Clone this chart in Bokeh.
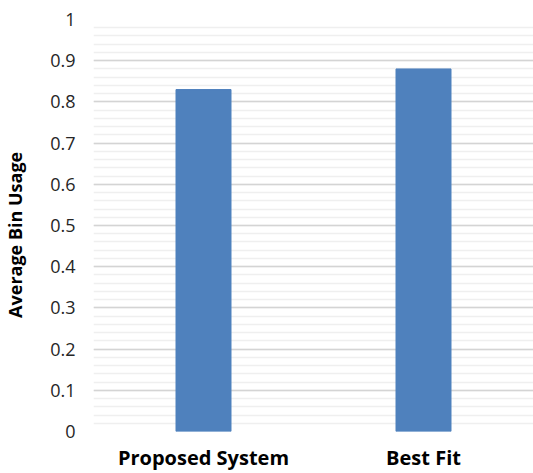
from bokeh.plotting import figure
from bokeh.models import FactorRange, Range1d, SingleIntervalTicker
from bokeh.embed import file_html
from bokeh.resources import INLINE

# Average bin usage per packing strategy
systems = ["Proposed System", "Best Fit"]
usage = [0.83, 0.88]
y_ticks = [0, 0.1, 0.2, 0.3, 0.4, 0.5, 0.6, 0.7, 0.8, 0.9, 1]
y_title = "Average Bin Usage"

p = figure(
    width=533, height=473,
    x_range=FactorRange(*systems, range_padding=0),
    y_range=Range1d(0, 1),
    output_backend="svg", toolbar_location=None,
    min_border_left=90, min_border_right=0,
    min_border_top=19, min_border_bottom=36,
)

p.vbar(x=systems, top=usage, width=0.25, color="#4F81BD", line_color="#4F81BD")

p.yaxis.ticker = SingleIntervalTicker(interval=0.1, num_minor_ticks=5)
p.yaxis.major_label_overrides = {t: f"{t:g}" for t in y_ticks}
p.ygrid.grid_line_color = "#D4D4D4"
p.ygrid.grid_line_width = 1.5
p.ygrid.minor_grid_line_color = "#EFEFEF"
p.ygrid.minor_grid_line_width = 1.5
p.xgrid.grid_line_color = None

for ax in (p.xaxis, p.yaxis):
    ax.axis_line_color = None
    ax.major_tick_line_color = None
    ax.minor_tick_line_color = None

# trailing no-break spaces nudge the rotated title a little below the middle
p.yaxis.axis_label = y_title + "\u00a0" * 4
p.yaxis.axis_label_text_font = "Open Sans"
p.yaxis.axis_label_text_font_style = "bold"
p.yaxis.axis_label_text_font_size = "18px"
p.yaxis.axis_label_text_color = "#000000"
p.yaxis.axis_label_standoff = 20
p.yaxis.major_label_text_font = "Open Sans"
p.yaxis.major_label_text_font_size = "18px"
p.yaxis.major_label_text_color = "#262626"
p.yaxis.major_label_standoff = 12

p.xaxis.major_label_text_font = "Open Sans"
p.xaxis.major_label_text_font_style = "bold"
p.xaxis.major_label_text_font_size = "20px"
p.xaxis.major_label_text_color = "#000000"
p.xaxis.major_label_standoff = 6

p.outline_line_color = None
p.background_fill_color = "white"
p.border_fill_color = "white"

open("out.html", "w").write(file_html(p, INLINE))
